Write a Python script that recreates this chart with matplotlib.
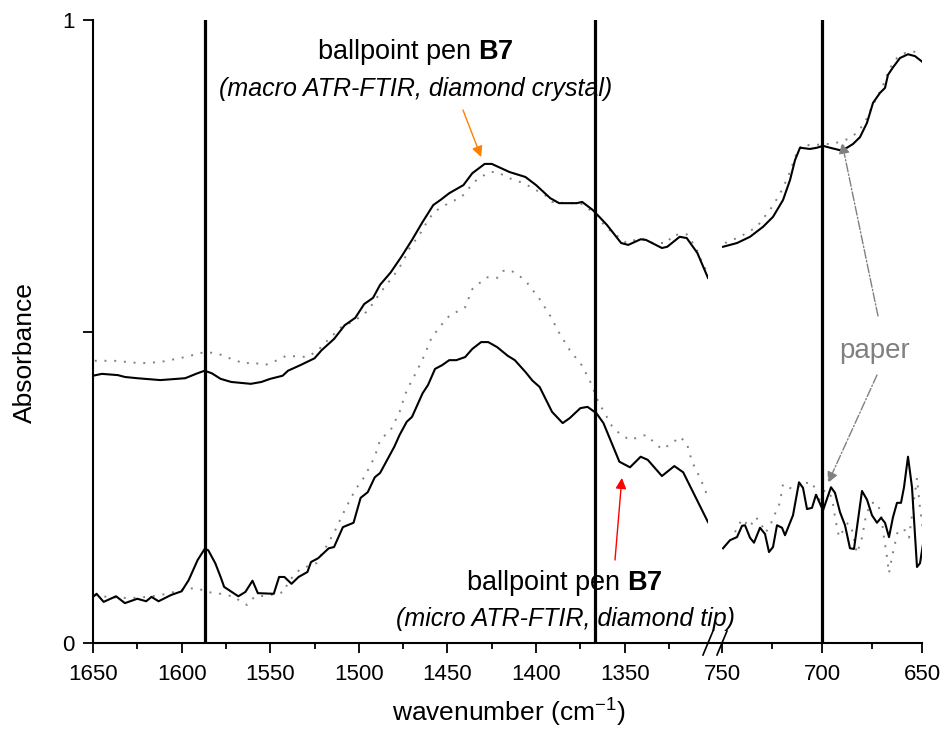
import matplotlib
matplotlib.use('Agg')
import matplotlib.pyplot as plt
from matplotlib.lines import Line2D

plt.rcParams['font.family'] = ['Liberation Sans', 'DejaVu Sans']
plt.rcParams['mathtext.fontset'] = 'custom'
plt.rcParams['mathtext.rm'] = 'Liberation Sans'
plt.rcParams['mathtext.bf'] = 'Liberation Sans:bold'
plt.rcParams['mathtext.it'] = 'Liberation Sans:italic'

# macro ATR-FTIR, 1650-1303 cm-1
macro_wn = [1650, 1645, 1636, 1632, 1625, 1612, 1598, 1591, 1587, 1583, 1578, 1572, 1561, 1555,
            1550, 1543, 1540, 1533, 1525, 1521, 1514, 1508, 1502, 1497, 1492, 1488, 1482, 1476,
            1470, 1464, 1458, 1454, 1449, 1441, 1436, 1429, 1425, 1415, 1406, 1400, 1392, 1387,
            1377, 1374, 1368, 1360, 1352, 1348, 1341, 1338, 1329, 1326, 1319, 1315, 1309, 1303]
macro_abs = [0.429, 0.432, 0.430, 0.427, 0.425, 0.422, 0.425, 0.433, 0.437, 0.433, 0.424, 0.419,
             0.416, 0.419, 0.424, 0.429, 0.437, 0.446, 0.457, 0.470, 0.488, 0.510, 0.522, 0.544,
             0.554, 0.575, 0.595, 0.620, 0.647, 0.676, 0.703, 0.711, 0.722, 0.735, 0.754, 0.769,
             0.769, 0.756, 0.748, 0.735, 0.714, 0.706, 0.706, 0.708, 0.695, 0.671, 0.642, 0.639,
             0.648, 0.647, 0.634, 0.636, 0.652, 0.650, 0.626, 0.586]
macro_ref_wn = [1649, 1638, 1623, 1612, 1598, 1587, 1580, 1572, 1564, 1561, 1553, 1546, 1541, 1529,
                1523, 1519, 1510, 1502, 1495, 1488, 1480, 1475, 1472, 1464, 1461, 1457, 1450, 1442,
                1437, 1433, 1426, 1422, 1415, 1407, 1400, 1395, 1391, 1383, 1375, 1368, 1360, 1349,
                1341, 1334, 1326, 1323, 1315, 1310, 1307, 1303]
macro_ref_abs = [0.453, 0.453, 0.449, 0.451, 0.459, 0.467, 0.465, 0.456, 0.448, 0.451, 0.446, 0.454,
                 0.461, 0.459, 0.470, 0.482, 0.507, 0.518, 0.533, 0.562, 0.591, 0.612, 0.631, 0.663,
                 0.679, 0.693, 0.705, 0.716, 0.733, 0.745, 0.756, 0.756, 0.746, 0.738, 0.727, 0.719,
                 0.708, 0.706, 0.706, 0.692, 0.666, 0.642, 0.650, 0.642, 0.642, 0.655, 0.656, 0.636,
                 0.615, 0.592]

# micro ATR-FTIR, 1650-1303 cm-1
micro_wn = [1650, 1648, 1644, 1637, 1632, 1625, 1620, 1617, 1613, 1606, 1600, 1596, 1591, 1587,
            1585, 1581, 1578, 1576, 1568, 1564, 1560, 1557, 1548, 1545, 1542, 1538, 1534, 1529,
            1527, 1523, 1517, 1514, 1509, 1503, 1499, 1495, 1491, 1488, 1480, 1477, 1473, 1470,
            1464, 1461, 1457, 1453, 1449, 1445, 1440, 1436, 1431, 1427, 1422, 1416, 1412, 1406,
            1402, 1398, 1391, 1385, 1381, 1375, 1371, 1366, 1362, 1353, 1347, 1341, 1337, 1329,
            1322, 1317, 1310, 1303]
micro_abs = [0.074, 0.079, 0.066, 0.075, 0.064, 0.071, 0.067, 0.074, 0.067, 0.077, 0.083, 0.101,
             0.133, 0.151, 0.149, 0.128, 0.106, 0.090, 0.075, 0.082, 0.100, 0.080, 0.079, 0.106,
             0.106, 0.095, 0.106, 0.114, 0.130, 0.136, 0.152, 0.154, 0.186, 0.193, 0.233, 0.242,
             0.266, 0.273, 0.315, 0.334, 0.355, 0.363, 0.401, 0.414, 0.440, 0.446, 0.454, 0.454,
             0.459, 0.472, 0.483, 0.483, 0.475, 0.461, 0.454, 0.435, 0.421, 0.411, 0.371, 0.353,
             0.361, 0.377, 0.379, 0.369, 0.353, 0.291, 0.282, 0.299, 0.294, 0.268, 0.284, 0.274,
             0.234, 0.194]
micro_ref_wn = [1649, 1642, 1630, 1619, 1608, 1598, 1591, 1586, 1578, 1570, 1567, 1563, 1559, 1550,
                1542, 1540, 1533, 1524, 1519, 1514, 1508, 1502, 1497, 1491, 1488, 1482, 1477, 1474,
                1472, 1467, 1463, 1459, 1453, 1449, 1440, 1436, 1428, 1422, 1419, 1415, 1410, 1405,
                1398, 1392, 1387, 1381, 1374, 1369, 1365, 1357, 1352, 1347, 1338, 1333, 1329, 1323,
                1319, 1315, 1312, 1307, 1303]
micro_ref_abs = [0.077, 0.074, 0.072, 0.074, 0.079, 0.087, 0.088, 0.082, 0.079, 0.074, 0.067, 0.061,
                 0.074, 0.077, 0.082, 0.098, 0.119, 0.128, 0.152, 0.177, 0.213, 0.246, 0.266, 0.299,
                 0.326, 0.342, 0.371, 0.398, 0.411, 0.438, 0.462, 0.490, 0.512, 0.525, 0.539, 0.568,
                 0.587, 0.586, 0.597, 0.599, 0.591, 0.578, 0.552, 0.525, 0.498, 0.470, 0.445, 0.417,
                 0.388, 0.347, 0.334, 0.326, 0.334, 0.321, 0.311, 0.321, 0.331, 0.321, 0.291, 0.262,
                 0.234]

# 750-650 cm-1 region
macro_wn2 = [749.5, 742.5, 736, 729.5, 724.5, 719.5, 716, 713.5, 711, 706, 702.5, 699.5, 696, 691,
             687.5, 684.5, 681, 677.5, 674.5, 671, 668.5, 667, 664.5, 661, 657, 653.5, 649.5]
macro_abs2 = [0.636, 0.642, 0.652, 0.668, 0.684, 0.711, 0.743, 0.775, 0.795, 0.793, 0.795, 0.798,
              0.795, 0.791, 0.795, 0.801, 0.812, 0.835, 0.867, 0.883, 0.891, 0.912, 0.924, 0.939,
              0.945, 0.942, 0.932]
macro_ref_wn2 = [748.5, 741, 732.5, 725, 721, 717, 712.5, 709.5, 705, 700, 694.5, 687, 682.5, 678.5,
                 674.5, 670, 666, 662.5, 658.5, 655, 651.5]
macro_ref_abs2 = [0.642, 0.652, 0.668, 0.700, 0.721, 0.748, 0.788, 0.801, 0.798, 0.801, 0.801,
                  0.809, 0.819, 0.836, 0.864, 0.891, 0.923, 0.939, 0.947, 0.949, 0.949]
micro_wn2 = [749.5, 746, 742.5, 740, 738.5, 736, 734, 731, 728.5, 726.5, 724.5, 722.5, 720, 718.5,
             714.5, 711.5, 709.5, 707.5, 705, 703, 699.5, 695.5, 693.5, 691, 688.5, 686, 684, 680,
             677.5, 675, 672.5, 670.5, 668.5, 666.5, 664.5, 662.5, 660.5, 659, 657, 655, 652.5,
             651, 649]
micro_abs2 = [0.152, 0.165, 0.170, 0.188, 0.189, 0.169, 0.161, 0.185, 0.175, 0.146, 0.154, 0.189,
              0.185, 0.173, 0.205, 0.258, 0.249, 0.215, 0.217, 0.238, 0.213, 0.250, 0.241, 0.210,
              0.189, 0.152, 0.151, 0.244, 0.230, 0.205, 0.193, 0.201, 0.193, 0.170, 0.202, 0.225,
              0.225, 0.250, 0.299, 0.250, 0.122, 0.128, 0.169]
micro_ref_wn2 = [743.5, 740, 736, 733.5, 731, 728.5, 726, 724.5, 722.5, 721, 719.5, 717, 713.5,
                 709.5, 704.5, 702, 698.5, 695, 693.5, 691.5, 687, 685, 682.5, 680, 678, 675.5,
                 672.5, 670.5, 669, 667.5, 666.5, 665, 662, 658.5, 656.5, 654.5, 652.5, 651, 649.5]
micro_ref_abs2 = [0.178, 0.199, 0.186, 0.202, 0.196, 0.177, 0.186, 0.202, 0.213, 0.226, 0.255,
                  0.250, 0.246, 0.257, 0.257, 0.226, 0.246, 0.234, 0.202, 0.170, 0.193, 0.181,
                  0.144, 0.169, 0.205, 0.225, 0.225, 0.209, 0.169, 0.138, 0.112, 0.138, 0.181,
                  0.181, 0.169, 0.217, 0.265, 0.217, 0.181]

marker_lines_left = [1587, 1367]
marker_lines_right = [700]

W, H = 944, 735
fig = plt.figure(figsize=(W / 100, H / 100), dpi=100)
ax1 = fig.add_axes([93 / W, 92 / H, 615 / W, 623 / H])
ax2 = fig.add_axes([722 / W, 92 / H, 200 / W, 623 / H])

solid = dict(color='black', lw=1.5)
dots = dict(color='#808080', lw=1.4, ls=(0, (1, 4)))

ax1.plot(macro_ref_wn, macro_ref_abs, **dots)
ax1.plot(micro_ref_wn, micro_ref_abs, **dots)
ax1.plot(macro_wn, macro_abs, **solid)
ax1.plot(micro_wn, micro_abs, **solid)
ax2.plot(macro_ref_wn2, macro_ref_abs2, **dots)
ax2.plot(micro_ref_wn2, micro_ref_abs2, **dots)
ax2.plot(macro_wn2, macro_abs2, **solid)
ax2.plot(micro_wn2, micro_abs2, **solid)

for v in marker_lines_left:
    ax1.axvline(v, color='black', lw=2.3)
for v in marker_lines_right:
    ax2.axvline(v, color='black', lw=2.3)

ax1.set_xlim(1650, 1303)
ax2.set_xlim(750, 650)
for ax in (ax1, ax2):
    ax.set_ylim(0, 1)
    ax.spines['top'].set_visible(False)
    ax.spines['right'].set_visible(False)
    ax.spines['bottom'].set_linewidth(1.5)
    ax.spines['left'].set_linewidth(1.5)
    ax.tick_params(axis='both', which='major', length=7, width=1.3, direction='out', pad=8)
    ax.tick_params(axis='x', which='minor', length=4, width=1.3, direction='out')
    ax.set_facecolor('none')

ax1.set_xticks([1650, 1600, 1550, 1500, 1450, 1400, 1350])
ax1.set_xticks([1625, 1575, 1525, 1475, 1425, 1375, 1325], minor=True)
ax2.set_xticks([750, 700, 650])
ax2.set_xticks([725, 675], minor=True)
ax1.set_yticks([0, 0.5, 1])
ax1.set_yticklabels(['0', '', '1'])
ax1.tick_params(axis='y', pad=6)
ax2.spines['left'].set_visible(False)
ax2.set_yticks([])
for ax in (ax1, ax2):
    for lab in ax.get_xticklabels() + ax.get_yticklabels():
        lab.set_fontsize(16)

# bottom axis bridge and break marks
fig.add_artist(Line2D([708 / W, 722 / W], [92 / H, 92 / H], color='black', lw=1.5))
for bx in (708, 722):
    fig.add_artist(Line2D([(bx - 5) / W, (bx + 5) / W], [(92 - 12) / H, (92 + 12) / H],
                          color='black', lw=1.2))

fig.text(25 / W, 1 - 353 / H, 'Absorbance', fontsize=19, rotation=90, ha='center', va='center')
fig.text(509 / W, 1 - 713 / H, 'wavenumber (cm$^{-1}$)', fontsize=19, ha='center', va='center')

fig.text(415 / W, 1 - 52 / H, r'ballpoint pen $\mathbf{B7}$', fontsize=19.5, ha='center', va='center')
fig.text(416 / W, 1 - 89 / H, '(macro ATR-FTIR, diamond crystal)', fontsize=18, style='italic',
         ha='center', va='center')
fig.text(564 / W, 1 - 583 / H, r'ballpoint pen $\mathbf{B7}$', fontsize=19.5, ha='center', va='center')
fig.text(565 / W, 1 - 619 / H, '(micro ATR-FTIR, diamond tip)', fontsize=18, style='italic',
         ha='center', va='center')
fig.text(875 / W, 1 - 351 / H, 'paper', fontsize=20, color='#808080', ha='center', va='center')

ax1.annotate('', xy=(1431, 0.780), xytext=(463 / W, 1 - 110 / H), textcoords='figure fraction',
             arrowprops=dict(arrowstyle='-|>', color='#ff8000', lw=1.0, mutation_scale=16,
                             shrinkA=0, shrinkB=0))
ax1.annotate('', xy=(1351.6, 0.265), xytext=(615 / W, 1 - 560 / H), textcoords='figure fraction',
             arrowprops=dict(arrowstyle='-|>', color='red', lw=1.0, mutation_scale=16,
                             shrinkA=0, shrinkB=0))
ax2.annotate('', xy=(690, 0.803), xytext=(878 / W, 1 - 316 / H), textcoords='figure fraction',
             arrowprops=dict(arrowstyle='-|>', color='#808080', lw=1.0, ls='-.',
                             mutation_scale=16, shrinkA=0, shrinkB=0))
ax2.annotate('', xy=(697, 0.257), xytext=(877 / W, 1 - 375 / H), textcoords='figure fraction',
             arrowprops=dict(arrowstyle='-|>', color='#808080', lw=1.0, ls='-.',
                             mutation_scale=16, shrinkA=0, shrinkB=0))

fig.savefig('out.png', dpi=100, facecolor='white')
